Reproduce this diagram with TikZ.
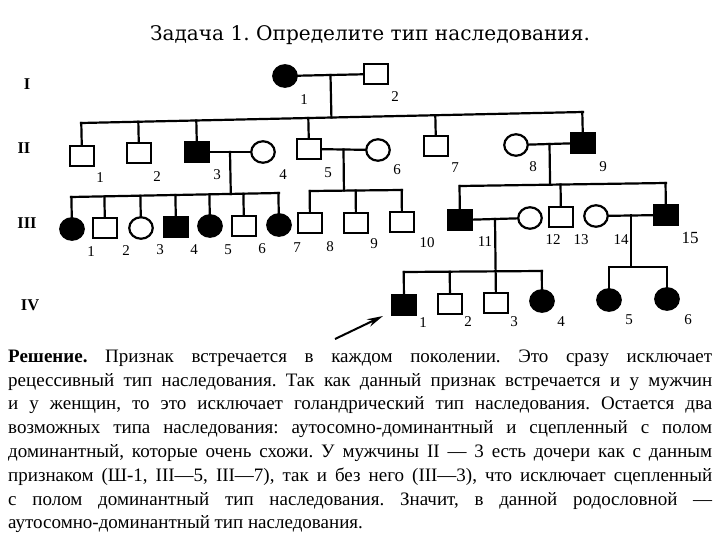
\documentclass[tikz,border=0pt]{standalone}
\usepackage{fontspec}
\setmainfont{Liberation Serif}
\newfontfamily\titlefont{DejaVu Serif}
\usetikzlibrary{shapes.geometric,arrows.meta,calc}
\frenchspacing
\begin{document}
\begin{tikzpicture}[x=1pt,y=-1pt,
  pl/.style={line width=2.2pt,line cap=rect},
  male/.style={draw,line width=2.2pt,rectangle,minimum width=23.5pt,minimum height=20.5pt,inner sep=0pt,fill=white},
  female/.style={draw,line width=2.2pt,ellipse,minimum width=23.5pt,minimum height=21.5pt,inner sep=0pt,fill=white},
  aff/.style={fill=black},
  num/.style={font=\fontsize{15}{15}\selectfont,inner sep=0pt},
  gen/.style={font=\bfseries\fontsize{16.5}{16.5}\selectfont,inner sep=0pt},
  txt/.style={font=\frenchspacing\fontsize{19}{23.7}\selectfont,inner sep=0pt,anchor=base west},
  arr/.style={line width=2pt,-{Stealth[length=16pt,width=8pt]}}
]
\useasboundingbox (0,0) rectangle (720,540);

% title
\node[font=\titlefont\fontsize{20.1}{24}\selectfont,anchor=base,inner sep=0pt] (title) at (370,41) {Задача 1. Определите тип наследования.};

% generation labels
\node[gen] (gI) at (27,84) {I};
\node[gen] (gII) at (24,148) {II};
\node[gen] (gIII) at (27,223) {III};
\node[gen] (gIV) at (30,305) {IV};

% generation I
\node[female,aff] (i1) at (285,76) {};
\node[male] (i2) at (376,74) {};
\node[num] (li1) at (304,100) {1};
\node[num] (li2) at (395,97) {2};

% generation II
\node[male] (ii1) at (82,156) {};
\node[male] (ii2) at (139,153) {};
\node[male,aff] (ii3) at (197,152) {};
\node[female] (ii4) at (263,152) {};
\node[male] (ii5) at (309,149) {};
\node[female] (ii6) at (378,150) {};
\node[male] (ii7) at (436,146) {};
\node[female] (ii8) at (516,145) {};
\node[male,aff] (ii9) at (583,143) {};
\node[num] (lii1) at (100,178) {1};
\node[num] (lii2) at (157,177) {2};
\node[num] (lii3) at (217,175) {3};
\node[num] (lii4) at (283,175) {4};
\node[num] (lii5) at (328,173) {5};
\node[num] (lii6) at (397,170) {6};
\node[num] (lii7) at (455,168) {7};
\node[num] (lii8) at (533,167) {8};
\node[num] (lii9) at (603,167) {9};

% generation III
\node[female,aff] (iii1) at (72,229) {};
\node[male] (iii2) at (105,228) {};
\node[female] (iii3) at (141,228) {};
\node[male,aff] (iii4) at (176,227) {};
\node[female,aff] (iii5) at (210,226) {};
\node[male] (iii6) at (244,226) {};
\node[female,aff] (iii7) at (279,225) {};
\node[male] (iii8) at (310,223) {};
\node[male] (iii9) at (356,223) {};
\node[male] (iii10) at (402,222) {};
\node[male,aff] (iii11) at (460,220) {};
\node[female] (iii12) at (530,218) {};
\node[male] (iii13) at (561,217) {};
\node[female] (iii14) at (596,216) {};
\node[male,aff] (iii15) at (666,215) {};
\node[num] (liii1) at (91,252) {1};
\node[num] (liii2) at (126,251) {2};
\node[num] (liii3) at (160,250) {3};
\node[num] (liii4) at (194,250) {4};
\node[num] (liii5) at (228,250) {5};
\node[num] (liii6) at (262,249) {6};
\node[num] (liii7) at (297,248) {7};
\node[num] (liii8) at (330,247) {8};
\node[num] (liii9) at (374,244) {9};
\node[num] (liii10) at (427,243) {10};
\node[num] (liii11) at (485,242) {11};
\node[num] (liii12) at (553,240) {12};
\node[num] (liii13) at (581,240) {13};
\node[num] (liii14) at (621,240) {14};
\node[num,font=\fontsize{17}{17}\selectfont] (liii15) at (690,238) {15};

% generation IV
\node[male,aff] (iv1) at (404,305) {};
\node[male] (iv2) at (450,304) {};
\node[male] (iv3) at (496,303) {};
\node[female,aff] (iv4) at (542,301) {};
\node[female,aff] (iv5) at (609,300) {};
\node[female,aff] (iv6) at (667,299) {};
\node[num] (liv1) at (423,323) {1};
\node[num] (liv2) at (468,322) {2};
\node[num] (liv3) at (514,322) {3};
\node[num] (liv4) at (561,322) {4};
\node[num] (liv5) at (629,320) {5};
\node[num] (liv6) at (688,320) {6};

% marriages
\draw[pl] (i1) -- (i2);
\draw[pl] (ii3) -- (ii4);
\draw[pl] (ii5) -- (ii6);
\draw[pl] (ii8) -- (ii9);
\draw[pl] (iii11) -- (iii12);
\draw[pl] (iii14) -- (iii15);

% marriage midpoints
\coordinate (m1) at ($(i1)!0.5!(i2)$);
\coordinate (m2) at ($(ii3)!0.5!(ii4)$);
\coordinate (m3) at ($(ii5)!0.5!(ii6)$);
\coordinate (m4) at ($(ii8)!0.5!(ii9)$);
\coordinate (m5) at ($(iii11)!0.5!(iii12)$);
\coordinate (m6) at ($(iii14)!0.5!(iii15)$);

% sibship lines
\coordinate (sa1) at (81,123); \coordinate (sa2) at (583,112);
\coordinate (sb1) at (71,197); \coordinate (sb2) at (279,193);
\coordinate (sc1) at (310,191); \coordinate (sc2) at (402,190);
\coordinate (sd1) at (460,186); \coordinate (sd2) at (666,183);
\coordinate (se1) at (404,272); \coordinate (se2) at (542,271);
\coordinate (sf1) at (609,267); \coordinate (sf2) at (667,267);
\draw[pl] (sa1) -- (sa2);
\draw[pl] (sb1) -- (sb2);
\draw[pl] (sc1) -- (sc2);
\draw[pl] (sd1) -- (sd2);
\draw[pl] (se1) -- (se2);
\draw[pl] (sf1) -- (sf2);

% descent lines
\draw[pl] (m1) -- ($(sa1)!(m1)!(sa2)$);
\draw[pl] (m2) -- ($(sb1)!(m2)!(sb2)$);
\draw[pl] (m3) -- ($(sc1)!(m3)!(sc2)$);
\draw[pl] (m4) -- ($(sd1)!(m4)!(sd2)$);
\draw[pl] (m5) -- (iv3);
\draw[pl] (m6) -- ($(sf1)!(m6)!(sf2)$);

% drops
\foreach \c in {ii1,ii2,ii3,ii5,ii7,ii9}
  \draw[pl] ($(sa1)!(\c)!(sa2)$) -- (\c);
\foreach \c in {iii1,iii2,iii3,iii4,iii5,iii6,iii7}
  \draw[pl] ($(sb1)!(\c)!(sb2)$) -- (\c);
\foreach \c in {iii8,iii9,iii10}
  \draw[pl] ($(sc1)!(\c)!(sc2)$) -- (\c);
\foreach \c in {iii11,iii13,iii15}
  \draw[pl] ($(sd1)!(\c)!(sd2)$) -- (\c);
\foreach \c in {iv1,iv2,iv4}
  \draw[pl] ($(se1)!(\c)!(se2)$) -- (\c);
\foreach \c in {iv5,iv6}
  \draw[pl] ($(sf1)!(\c)!(sf2)$) -- (\c);

% proband arrow
\coordinate (a0) at (335,339);
\coordinate (a1) at (383,316);
\draw[arr] (a0) -- (a1);

% text
\node[txt] (t1) at (8,362) {\makebox[704pt][s]{\textbf{Решение.} Признак встречается в каждом поколении. Это сразу исключает}};
\node[txt] (t2) at (8,386) {\makebox[704pt][s]{рецессивный тип наследования. Так как данный признак встречается и у мужчин}};
\node[txt] (t3) at (8,409.5) {\makebox[704pt][s]{и у женщин, то это исключает голандрический тип наследования. Остается два}};
\node[txt] (t4) at (8,433) {\makebox[704pt][s]{возможных типа наследования: аутосомно-доминантный и сцепленный с полом}};
\node[txt] (t5) at (8,457) {\makebox[704pt][s]{доминантный, которые очень схожи. У мужчины II — 3 есть дочери как с данным}};
\node[txt] (t6) at (8,481) {\makebox[704pt][s]{признаком (Ш-1, III—5, III—7), так и без него (III—3), что исключает сцепленный}};
\node[txt] (t7) at (8,505) {\makebox[704pt][s]{с полом доминантный тип наследования. Значит, в данной родословной —}};
\node[txt] (t8) at (8,528.5) {аутосомно-доминантный тип наследования.};
\end{tikzpicture}
\end{document}
